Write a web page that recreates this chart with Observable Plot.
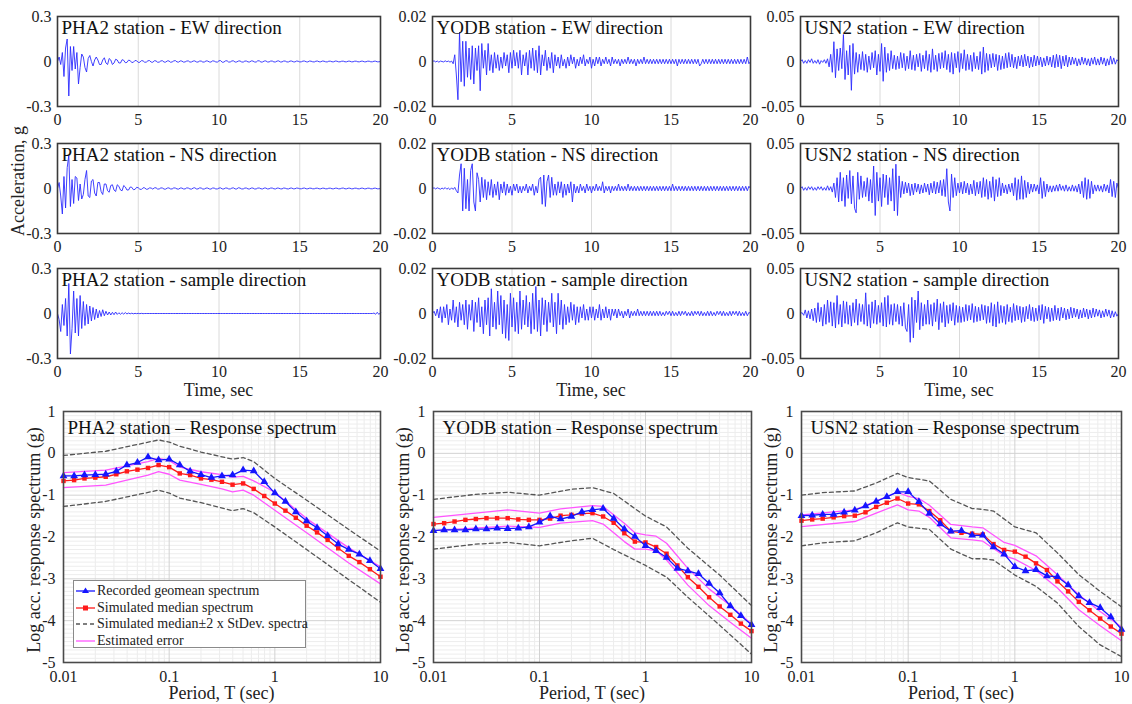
<!DOCTYPE html>
<html><head><meta charset="utf-8">
<script src="https://cdn.jsdelivr.net/npm/d3@7"></script>
<script src="https://cdn.jsdelivr.net/npm/@observablehq/plot@0.6"></script>
<style>
body{margin:0;background:#fff;width:1132px;height:704px;overflow:hidden;font-family:"Liberation Serif","Times New Roman",serif;color:#222}
#root{position:relative;width:1132px;height:704px}
.lbl{position:absolute;font-size:18px;line-height:1;white-space:nowrap;transform:translate(-50%,-50%);color:#222}
.vlbl{position:absolute;font-size:18px;line-height:1;white-space:nowrap;transform:translate(-50%,-50%) rotate(-90deg);color:#222}
#legend{position:absolute;background:#fff;border:1px solid #8a8a8a;font-size:14px;box-sizing:border-box;padding-top:2px}
#legend .row{height:16.5px;line-height:16px;white-space:nowrap;display:flex;align-items:center}
#legend svg{margin:0 2px 0 2px;flex:none}
</style></head><body><div id="root"></div><script>
// ---------- time histories (acceleration in milli-g, one sample every 0.1 s) ----------
const dt = 0.1;
const timeTicks = [0, 5, 10, 15, 20];
const directions = ["EW direction", "NS direction", "sample direction"];

const pha2EW = [
0,30,-20,60,-100,90,150,-230,100,-60,100,-50,60,-150,-40,50,30,-40,-70,20,
40,0,-30,10,30,10,-20,-20,10,25,-10,-20,20,10,-20,-10,15,10,-10,-10,
12,8,-8,-6,9,6,-7,-5,7,5,-6,-5,6,4,-5,-4,5,6,-4,-5,
5,4,-5,-4,4,5,-4,-4,4,4,-5,-3,4,6,-3,-4,4,3,-4,-3,
3,4,-4,-3,3,4,-3,-4,3,3,-4,-3,4,3,-3,-4,4,3,-3,-4,
5,6,-5,-4,4,5,-4,-3,4,4,-4,-3,3,4,-3,-4,3,3,-3,-3,
4,3,-3,-4,5,4,-4,-3,3,4,-3,-3,3,3,-3,-3,3,4,-3,-3,
3,3,-3,-3,3,3,-2,-3,3,2,-3,-2,3,3,-2,-3,3,2,-2,-3,
2,3,-2,-2,3,2,-2,-3,2,2,-2,-2,3,2,-2,-2,2,2,-2,-2,
2,2,-2,-2,2,2,-2,-2,2,2,-2,-2,2,2,-2,-2,2,2,-2,-2,
0];
const pha2NS = [
0,40,-50,-170,80,-130,140,220,-120,60,-100,80,70,-80,30,-70,-40,60,120,-50,
-60,50,60,-30,-50,40,40,-20,-40,30,30,-15,-25,20,25,-10,-20,25,15,-10,
-15,20,10,-10,-10,10,8,-8,-6,8,5,-5,-6,5,4,-5,-4,4,3,-4,
4,5,-4,-3,4,3,-4,-4,3,4,-3,-3,4,3,-3,-4,3,3,-3,-3,
4,3,-3,-4,3,5,-3,-3,4,3,-4,-3,3,3,-3,-4,3,3,-3,-3,
3,4,-3,-3,3,3,-3,-3,3,4,-3,-3,5,3,-3,-3,3,3,-3,-3,
3,3,-3,-3,3,3,-2,-3,3,3,-3,-2,3,3,-2,-3,3,2,-2,-3,
3,2,-2,-3,2,3,-2,-2,3,2,-2,-2,2,3,-2,-2,2,2,-2,-2,
2,2,-2,-2,2,2,-2,-2,2,2,-2,-2,2,2,-2,-2,2,3,-2,-2,
2,2,-2,-2,2,2,-2,-2,2,2,-2,-2,2,2,-2,-2,2,2,-2,-2,
0];
const pha2Sample = [
0,-40,-120,60,-80,100,-150,200,-270,-100,150,-130,100,-150,120,-100,80,-80,60,-70,
50,-50,40,-40,30,-30,20,-20,25,-15,15,-10,10,-10,8,-8,10,-6,5,-5,
5,-4,6,-3,3,-2,2,-2,1,-1,1,-1,1,-1,0,0,0,0,0,0,
0,0,0,0,0,0,0,0,0,0,0,0,0,0,0,0,0,0,0,0,
0,0,0,0,0,0,0,0,0,0,0,0,0,0,0,0,0,0,0,0,
0,0,0,0,0,0,0,0,0,0,0,0,0,0,0,0,0,0,0,0,
0,0,0,0,0,0,0,0,0,0,0,0,0,0,0,0,0,0,0,0,
0,0,0,0,0,0,0,0,0,0,0,0,0,0,0,0,0,0,0,0,
0,0,0,0,0,0,0,0,0,0,0,0,0,0,0,0,0,0,0,0,
0,0,0,0,0,0,0,0,0,0,0,0,0,0,0,0,3,-5,8,-6,
5];

const yodbEW = [
0,0.3,-0.2,0.2,-0.3,0.2,0,-0.2,0.3,-0.1,0.2,-0.3,0.2,-1,3,-6,-17,13,-9,9,
-11,9,-7,6,-8,7,-10,6,-4,7,-13,8,-3,5,-6,8,-4,3,-5,4,
-3,3,-4,2,-3,4,-2,3,-5,4,-3,5,-2,4,-3,5,-6,3,-2,4,
-6,5,-3,6,-4,5,-5,7,-6,3,-2,5,-4,2,-3,4,-5,3,-2,2,
-3,3,-2,1,-3,2,-2,3,-1,2,-3,1,-2,2,-1,3,-2,1,-1,2,
-3,1,-2,2,-1,2,-2,1,-1,2,-1,1,-2,2,-1,1,-1,1,-2,1,
-1,1,-1,2,-1,1,-1,1,-2,1,-1,1,-1,2,-1,1,-1,1,-1,1,
-1,1,-1,1,-1,1,-1,1,-1,1,-1,1,-1,1,-2,1,-1,1,-1,1,
-1,1,-1,1,-1,1,-1,1,-2,-1,1,-1,1,-1,1,-1,1,-1,1,-1,
1,-1,1,-1,1,-1,1,-1,1,-1,1,-1,1,-1,1,-1,1,-1,2,-1,
0];
const yodbNS = [
0,0.3,-0.2,0.3,0,-0.3,0.2,-0.2,0.4,-0.3,0.2,-0.5,0.3,-0.4,0.5,-1,-2,6,11,-10,
9,-9,4,-10,8,11,-6,-10,7,4,-6,5,-4,4,-5,3,-3,4,-4,2,
-3,3,-5,2,-2,3,-3,2,-2,1,-3,2,-1,2,-2,1,-2,1,-1,2,
-2,1,-1,2,-3,1,-2,4,5,-7,6,-8,3,6,-4,5,-3,2,-3,3,
-2,3,-4,2,-3,2,-2,3,-6,2,-2,1,-2,2,-1,1,-2,2,-1,1,
-2,1,-1,2,-1,1,-1,3,-2,1,-1,1,-2,1,-1,1,-1,2,-1,1,
-1,1,-1,2,-1,1,-1,1,-1,1,-1,1,-1,1,-1,1,-1,1,-1,1,
-1,1,-1,1,-1,1,-1,1,-1,1,-1,2,-1,1,-1,1,-1,1,-1,1,
-1,1,-1,1,-1,1,-1,1,-1,1,-1,1,-1,1,-1,1,-1,1,-1,1,
-1,1,-1,1,-1,1,-1,1,-1,1,-1,1,-1,1,-1,1,-1,1,-1,1,
0];
const yodbSample = [
0,1,-1,2,-2,3,-4,3,-2,4,-5,2,-3,6,-4,3,-6,5,-3,4,
-5,6,-7,4,-3,6,-8,5,-4,7,-6,3,-9,6,-5,7,-10,11,-6,5,
-7,10,-5,8,-9,6,-11,4,-12,9,-6,7,-8,5,-9,10,-7,6,-5,8,
-6,5,-9,9,-7,12,-8,6,-10,7,-5,6,-8,5,-4,9,-6,5,-9,9,
-5,6,-7,4,-5,3,-4,5,-3,4,-5,3,-4,3,-2,4,-3,2,-3,3,
-2,3,-3,2,-2,4,-3,2,-2,3,-2,2,-3,2,-1,2,-2,2,-1,1,
-2,1,-1,2,-2,1,-1,1,-1,2,-1,1,-1,1,-1,1,-1,1,-1,1,
-1,1,-1,1,-1,0.5,-1,1,-0.5,1,-1,1,-1,0.5,-1,1,-1,1,-0.5,1,
-1,0.5,-1,1,-1,1,-0.5,1,-1,1,-1,0.5,-1,1,-1,1,-1,0.5,-1,1,
-0.5,1,-1,1,-1,0.5,-1,1,-1,1,-0.5,1,-1,1,-1,0.5,-1,1,-1,0.5,
0];

const usn2EW = [
0,2,-2,1,-2,2,-1,3,-2,1,-2,2,-3,1,-1,2,-2,3,-6,8,
-12,22,-18,14,-10,15,-8,30,-20,12,-15,18,-32,20,-14,10,-12,8,-9,11,
-10,8,-12,6,-9,10,-7,12,-15,8,-11,20,-22,16,-12,9,-10,12,-8,7,
-9,6,-8,10,-7,9,-10,6,-8,12,-9,7,-10,8,-6,9,-11,7,-8,12,
-10,8,-12,14,-9,7,-11,9,-8,10,-7,12,-9,8,-12,10,-14,9,-7,11,
-12,9,-8,13,-10,8,-9,7,-11,10,-8,6,-9,11,-14,16,-12,9,-10,8,
-7,9,-6,8,-10,7,-9,6,-8,9,-7,10,-6,8,-7,5,-8,6,-5,7,
-6,8,-5,6,-7,5,-6,7,-5,6,-4,5,-6,4,-5,6,-4,5,-6,7,
-7,8,-6,7,-8,6,-5,7,-6,5,-4,5,-3,4,-5,3,-4,5,-3,4,
-4,3,-5,4,-3,5,-4,3,-4,5,-3,4,-5,3,-4,6,-3,4,-3,2,
0];
const usn2NS = [
0,2,-2,1,-2,2,-1,2,-2,1,-2,2,-1,2,-2,1,-2,3,-2,2,
-4,6,-10,12,-15,18,-14,12,-20,15,-11,20,-17,14,-22,-27,18,-12,14,-10,
8,-9,12,-14,10,-16,25,-30,18,-14,12,-20,16,-10,15,-18,12,-14,22,-25,
27,-30,14,-10,8,-6,7,-5,6,-8,5,-7,6,-4,5,-6,4,-5,6,-4,
5,-7,6,-5,8,-6,7,-5,9,-8,10,-9,22,-15,-25,16,-10,12,-8,6,
-5,7,-6,8,-5,6,-7,5,-6,9,-8,7,-6,8,-10,12,-9,10,-12,8,
-10,13,-14,10,-9,12,-8,6,-5,4,-6,5,-4,6,-8,12,-13,10,-12,14,
-12,9,-10,7,-6,5,-4,5,-3,4,-6,12,-11,8,-9,5,-4,3,-4,3,
-3,4,-3,5,-2,3,-3,4,-3,2,-3,4,-3,3,-4,5,-6,8,-10,12,
-12,10,-11,8,-6,4,-3,4,-3,3,-4,5,-3,4,-5,10,-9,8,-10,6,
0];
const usn2Sample = [
0,1,-2,4,-5,3,-6,5,-8,6,-10,12,-9,7,-14,10,-12,15,-10,13,
-14,12,-16,20,-12,10,-15,14,-11,13,-12,9,-14,12,-10,16,-13,11,-9,10,
-12,23,-14,10,-16,13,-11,15,-12,9,-10,12,-14,18,-15,20,-12,10,-13,11,
-9,10,-12,8,-14,12,-16,-20,10,-32,18,-27,15,-10,25,-18,12,-14,10,-12,
15,-12,10,-14,12,-9,16,-18,11,-10,13,-15,9,-11,10,-8,12,-13,9,-10,
8,-10,7,-9,10,-8,9,-7,11,-10,8,-9,7,-8,10,-7,9,-11,8,-10,
12,-14,10,-15,13,-11,9,-10,8,-12,10,-9,7,-10,11,-8,9,-7,8,-10,
7,-9,8,-6,10,-8,7,-9,6,-8,9,-7,10,-11,8,-6,7,-9,6,-8,
9,-7,6,-8,7,-5,6,-7,5,-6,7,-5,6,-4,5,-6,4,-5,6,-4,
5,-6,4,-5,6,-4,5,-3,4,-5,3,-4,5,-3,4,-5,3,-4,2,-3,
0];

// ---------- response spectra (log10 of spectral acceleration in g) ----------
const periods = [0.01,0.0126,0.0158,0.02,0.0251,0.0316,0.0398,0.0501,0.0631,0.0794,
  0.1,0.126,0.158,0.2,0.251,0.316,0.398,0.501,0.631,0.794,
  1,1.26,1.58,2,2.51,3.16,3.98,5.01,6.31,7.94,10];
const periodTicks = [0.01, 0.1, 1, 10];
const spectrumTicks = [-5, -4, -3, -2, -1, 0, 1];

const pha2Recorded = [-0.54,-0.54,-0.52,-0.51,-0.50,-0.43,-0.28,-0.22,-0.09,-0.16,-0.14,-0.28,-0.43,-0.51,-0.58,-0.54,-0.52,-0.40,-0.42,-0.68,-0.95,-1.15,-1.40,-1.62,-1.78,-1.97,-2.17,-2.30,-2.41,-2.57,-2.76];
const pha2Simulated = [-0.66,-0.64,-0.60,-0.58,-0.56,-0.50,-0.43,-0.39,-0.35,-0.28,-0.33,-0.48,-0.52,-0.60,-0.63,-0.68,-0.75,-0.72,-0.85,-1.02,-1.20,-1.37,-1.54,-1.73,-1.89,-2.07,-2.27,-2.45,-2.60,-2.77,-2.95];
const pha2ErrT = [0.01,0.0251,0.0631,0.0794,0.1,0.126,0.2,0.316,0.398,0.501,0.631,1,2,5.01,10];
const pha2ErrHi = [-0.46,-0.40,-0.20,-0.12,-0.17,-0.33,-0.44,-0.51,-0.57,-0.55,-0.66,-0.93,-1.56,-2.26,-2.71];
const pha2ErrLo = [-0.82,-0.76,-0.52,-0.44,-0.50,-0.64,-0.74,-0.85,-0.92,-0.88,-1.00,-1.36,-1.90,-2.62,-3.12];
const pha2SdT = [0.01,0.0251,0.0794,0.1,0.126,0.2,0.398,0.501,0.631,1,2,5.01,10];
const pha2SdHi = [-0.05,0.05,0.32,0.27,0.17,0.03,-0.14,-0.10,-0.20,-0.60,-1.12,-1.82,-2.34];
const pha2SdLo = [-1.27,-1.15,-0.88,-0.95,-1.07,-1.18,-1.37,-1.32,-1.42,-1.76,-2.30,-3.02,-3.56];

const yodbRecorded = [-1.85,-1.83,-1.83,-1.83,-1.81,-1.81,-1.79,-1.80,-1.79,-1.76,-1.65,-1.50,-1.57,-1.51,-1.40,-1.35,-1.32,-1.56,-1.81,-1.99,-2.21,-2.33,-2.49,-2.75,-2.81,-2.88,-3.11,-3.34,-3.65,-3.88,-4.10];
const yodbSimulated = [-1.69,-1.67,-1.63,-1.59,-1.57,-1.55,-1.55,-1.55,-1.58,-1.59,-1.59,-1.56,-1.49,-1.47,-1.44,-1.43,-1.51,-1.66,-1.91,-2.11,-2.13,-2.24,-2.40,-2.68,-2.96,-3.19,-3.44,-3.66,-3.86,-4.07,-4.25];
const yodbErrT = [0.01,0.0501,0.1,0.158,0.316,0.398,0.631,0.794,1,1.26,1.58,2.51,3.98,6.31,10];
const yodbErrHi = [-1.53,-1.35,-1.43,-1.33,-1.25,-1.27,-1.67,-1.90,-1.95,-1.98,-2.15,-2.75,-3.24,-3.64,-4.08];
const yodbErrLo = [-1.85,-1.74,-1.77,-1.67,-1.61,-1.69,-2.11,-2.29,-2.29,-2.33,-2.55,-3.15,-3.64,-4.04,-4.42];
const yodbSdT = [0.01,0.0251,0.0501,0.1,0.2,0.316,0.501,1,1.58,2.51,5.01,10];
const yodbSdHi = [-1.10,-0.98,-0.93,-1.00,-0.86,-0.82,-0.96,-1.50,-1.76,-2.27,-2.91,-3.64];
const yodbSdLo = [-2.29,-2.17,-2.13,-2.21,-2.09,-2.03,-2.30,-2.68,-2.96,-3.44,-4.11,-4.80];

const usn2Recorded = [-1.49,-1.48,-1.46,-1.46,-1.41,-1.36,-1.26,-1.15,-1.04,-0.92,-0.92,-1.16,-1.44,-1.69,-1.86,-1.85,-1.96,-1.96,-2.24,-2.41,-2.71,-2.81,-2.78,-2.93,-2.95,-3.15,-3.41,-3.57,-3.69,-3.91,-4.21];
const usn2Simulated = [-1.61,-1.58,-1.56,-1.53,-1.50,-1.49,-1.41,-1.28,-1.18,-1.08,-1.20,-1.22,-1.38,-1.60,-1.86,-1.90,-1.92,-1.94,-2.17,-2.31,-2.35,-2.47,-2.63,-2.79,-3.06,-3.30,-3.55,-3.75,-3.95,-4.14,-4.31];
const usn2ErrT = [0.01,0.0316,0.0501,0.0794,0.1,0.126,0.158,0.251,0.398,0.501,0.794,1,1.58,2.51,3.98,6.31,10];
const usn2ErrHi = [-1.47,-1.35,-1.14,-0.93,-1.03,-1.08,-1.24,-1.70,-1.76,-1.78,-2.13,-2.20,-2.45,-2.90,-3.38,-3.78,-4.15];
const usn2ErrLo = [-1.75,-1.63,-1.43,-1.23,-1.35,-1.38,-1.53,-2.02,-2.07,-2.10,-2.45,-2.53,-2.80,-3.22,-3.74,-4.12,-4.48];
const usn2SdT = [0.01,0.0158,0.0316,0.0501,0.0794,0.1,0.158,0.251,0.398,0.501,0.631,1,1.58,2.51,3.98,6.31,10];
const usn2SdHi = [-1.00,-0.94,-0.90,-0.71,-0.48,-0.58,-0.66,-1.10,-1.32,-1.34,-1.38,-1.76,-1.90,-2.38,-2.90,-3.30,-3.67];
const usn2SdLo = [-2.21,-2.14,-2.09,-1.90,-1.66,-1.76,-1.82,-2.29,-2.52,-2.52,-2.55,-2.91,-3.18,-3.58,-4.14,-4.58,-4.86];

const legendLabels = ["Recorded geomean spectrum","Simulated median spectrum","Simulated median\u00b12 x StDev. spectra","Estimated error"];

// ---------- layout ----------
const FONT = '"Liberation Serif","Times New Roman",serif';
const root = document.getElementById("root");
const C_BLUE = "#1515ff", C_RED = "#ff1a1a", C_MAG = "#ff55ff", C_DASH = "#555555";

function place(el, left, top) {
  el.style.position = "absolute"; el.style.left = left + "px"; el.style.top = top + "px";
  root.appendChild(el);
}
function label(text, x, y, vertical) {
  const d = document.createElement("div");
  d.className = vertical ? "vlbl" : "lbl";
  d.textContent = text;
  d.style.left = x + "px"; d.style.top = y + "px";
  root.appendChild(d);
}
const baseStyle = {background: "transparent", overflow: "visible", fontFamily: FONT, fontSize: "16px", color: "#222"};

const tStations = [
  {name: "PHA2", lim: 0.3, series: [pha2EW, pha2NS, pha2Sample]},
  {name: "YODB", lim: 0.02, series: [yodbEW, yodbNS, yodbSample]},
  {name: "USN2", lim: 0.05, series: [usn2EW, usn2NS, usn2Sample]}
];
const colLeft = [57, 432, 800], colW = [323, 318, 318];
const rowTop = [16, 143, 268], rowH = 90;

tStations.forEach((st, c) => {
  st.series.forEach((vals, r) => {
    const ML = 50, MR = 16, MT = 2, MB = 26;
    const data = vals.map((v, i) => ({t: i * dt, a: v / 1000}));
    const svg = Plot.plot({
      width: ML + colW[c] + MR, height: MT + rowH + MB,
      marginLeft: ML, marginRight: MR, marginTop: MT, marginBottom: MB,
      style: baseStyle,
      x: {domain: [0, 20], ticks: timeTicks, tickSize: 0, tickPadding: 7, tickFormat: d => String(d), label: null},
      y: {domain: [-st.lim, st.lim], ticks: [-st.lim, 0, st.lim], tickSize: 0, tickPadding: 6, tickFormat: d => String(d), label: null},
      marks: [
        Plot.ruleX(timeTicks.slice(1, -1), {stroke: "#dadada", strokeWidth: 1}),
        Plot.line(data, {x: "t", y: "a", stroke: "#2b2bff", strokeWidth: 0.9}),
        Plot.frame({stroke: "#3a3a3a", strokeWidth: 1.6}),
        Plot.text([`${st.name} station - ${directions[r]}`], {frameAnchor: "top-left", dx: 4, dy: 4, lineAnchor: "top", textAnchor: "start", fontSize: 19, fill: "#111"})
      ]
    });
    place(svg, colLeft[c] - ML, rowTop[r] - MT);
  });
  label("Time, sec", colLeft[c] + colW[c] / 2, 390);
});
label("Acceleration, g", 18, 181, true);

// spectra
const minorPeriods = [];
for (const d of [0.01, 0.1, 1]) for (let k = 2; k <= 9; k++) minorPeriods.push(+(d * k).toPrecision(3));
const minorLevels = [];
for (let k = -49; k <= 9; k++) if (k % 10 !== 0) minorLevels.push(k / 10);

function pts(ts, vs) { return ts.map((T, i) => ({T, v: vs[i]})); }

const sStations = [
  {name: "PHA2", rec: pha2Recorded, sim: pha2Simulated, eT: pha2ErrT, eHi: pha2ErrHi, eLo: pha2ErrLo, sT: pha2SdT, sHi: pha2SdHi, sLo: pha2SdLo, dx: 4},
  {name: "YODB", rec: yodbRecorded, sim: yodbSimulated, eT: yodbErrT, eHi: yodbErrHi, eLo: yodbErrLo, sT: yodbSdT, sHi: yodbSdHi, sLo: yodbSdLo, dx: 9},
  {name: "USN2", rec: usn2Recorded, sim: usn2Simulated, eT: usn2ErrT, eHi: usn2ErrHi, eLo: usn2ErrLo, sT: usn2SdT, sHi: usn2SdHi, sLo: usn2SdLo, dx: 9}
];
const sLeft = [63, 433, 801], sW = [317, 318, 320], sTop = 411, sH = 251;
const yLabelX = [34, 403, 771];

sStations.forEach((st, c) => {
  const ML = 45, MR = 15, MT = 2, MB = 26;
  const rec = pts(periods, st.rec), sim = pts(periods, st.sim);
  const svg = Plot.plot({
    width: ML + sW[c] + MR, height: MT + sH + MB,
    marginLeft: ML, marginRight: MR, marginTop: MT, marginBottom: MB,
    style: baseStyle,
    x: {type: "log", domain: [0.01, 10], ticks: periodTicks, tickSize: 0, tickPadding: 8, tickFormat: d => String(d), label: null},
    y: {domain: [-5, 1], ticks: spectrumTicks, tickSize: 0, tickPadding: 8, tickFormat: d => String(d), label: null},
    marks: [
      Plot.ruleX(minorPeriods, {stroke: "#ececec", strokeWidth: 1}),
      Plot.ruleY(minorLevels, {stroke: "#ededed", strokeWidth: 1}),
      Plot.ruleX(periodTicks, {stroke: "#d2d2d2", strokeWidth: 1}),
      Plot.ruleY(spectrumTicks, {stroke: "#d2d2d2", strokeWidth: 1}),
      Plot.line(pts(st.sT, st.sHi), {x: "T", y: "v", stroke: C_DASH, strokeWidth: 1.3, strokeDasharray: "4,3"}),
      Plot.line(pts(st.sT, st.sLo), {x: "T", y: "v", stroke: C_DASH, strokeWidth: 1.3, strokeDasharray: "4,3"}),
      Plot.line(pts(st.eT, st.eHi), {x: "T", y: "v", stroke: C_MAG, strokeWidth: 1.3}),
      Plot.line(pts(st.eT, st.eLo), {x: "T", y: "v", stroke: C_MAG, strokeWidth: 1.3}),
      Plot.line(sim, {x: "T", y: "v", stroke: C_RED, strokeWidth: 1.3}),
      Plot.dot(sim, {x: "T", y: "v", symbol: "square", r: 2.5, fill: C_RED, stroke: "none"}),
      Plot.line(rec, {x: "T", y: "v", stroke: C_BLUE, strokeWidth: 1.3}),
      Plot.dot(rec, {x: "T", y: "v", symbol: "triangle", r: 2.9, fill: C_BLUE, stroke: "none"}),
      Plot.frame({stroke: "#4a4a4a", strokeWidth: 1.6}),
      Plot.text([`${st.name} station \u2013 Response spectrum`], {frameAnchor: "top-left", dx: st.dx, dy: 9, lineAnchor: "top", textAnchor: "start", fontSize: 19, fill: "#111"})
    ]
  });
  place(svg, sLeft[c] - ML, sTop - MT);
  label("Log acc. response spectrum (g)", yLabelX[c], sTop + sH / 2 + 3, true);
  label("Period, T (sec)", sLeft[c] + sW[c] / 2, 693);
});

// legend (first spectrum panel)
const legend = document.createElement("div");
legend.id = "legend";
legend.style.width = "233px"; legend.style.height = "68px";
const swatches = [
  `<line x1="0" y1="6" x2="19" y2="6" stroke="${C_BLUE}" stroke-width="1.3"/><path d="M9.5,2.5 L13,8 L6,8 Z" fill="${C_BLUE}"/>`,
  `<line x1="0" y1="6" x2="19" y2="6" stroke="${C_RED}" stroke-width="1.3"/><rect x="7" y="3.5" width="5" height="5" fill="${C_RED}"/>`,
  `<line x1="0" y1="6" x2="19" y2="6" stroke="${C_DASH}" stroke-width="1.3" stroke-dasharray="4,3"/>`,
  `<line x1="0" y1="6" x2="19" y2="6" stroke="${C_MAG}" stroke-width="1.3"/>`
];
legendLabels.forEach((t, i) => {
  const row = document.createElement("div");
  row.className = "row";
  row.innerHTML = `<svg width="19" height="12">${swatches[i]}</svg><span></span>`;
  row.querySelector("span").textContent = t;
  legend.appendChild(row);
});
place(legend, 73, 580);
</script></body></html>
